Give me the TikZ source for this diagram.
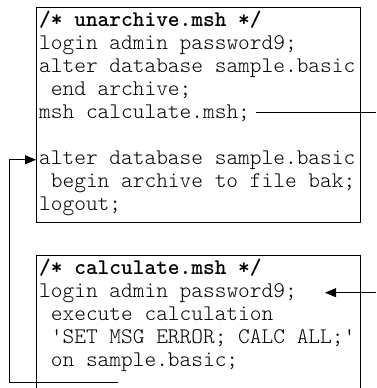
\documentclass[tikz,border=0pt]{standalone}
\usetikzlibrary{arrows.meta}
\begin{document}
\begin{tikzpicture}[x=1pt,y=-1pt,
  code/.style={anchor=base west, inner sep=0pt, font=\fontsize{22.3}{23}\selectfont\ttfamily\fontseries{l}\selectfont},
  codetitle/.style={code, font=\fontsize{22.3}{23}\selectfont\ttfamily\bfseries},
  box/.style={draw, line width=1pt, anchor=north west, inner sep=0pt, minimum width=324pt},
  conn/.style={line width=1pt},
  arr/.style={conn, -{Triangle[length=11pt,width=9pt]}}]
\useasboundingbox (0,0) rectangle (376,388);
\clip (0,0) rectangle (376,388);
% boxes
\node[box, minimum height=215pt] (unarch) at (36,7) {};
\node[box, minimum height=200pt] (calc) at (36,255) {};
% unarchive.msh
\node[codetitle] (t1) at (39,26) {/* unarchive.msh */};
\node[code] (login1) at (39,49) {login admin password9;};
\node[code] (alter1) at (39,72) {alter database sample.basic};
\node[code] (end1) at (39,95) {\hphantom{a}end archive;};
\node[code] (msh) at (39,118) {msh calculate.msh;};
\node[code] (alter2) at (39,164) {alter database sample.basic};
\node[code] (begin2) at (39,187) {\hphantom{a}begin archive to file bak;};
\node[code] (logout) at (39,210) {logout;};
% calculate.msh
\node[codetitle] (t2) at (39,274) {/* calculate.msh */};
\node[code] (login2) at (39,297) {login admin password9;};
\node[code] (exec) at (39,320) {\hphantom{a}execute calculation};
\node[code] (setmsg) at (39,343) {\hphantom{a}\textquotesingle SET MSG ERROR; CALC ALL;\textquotesingle};
\node[code] (onsample) at (39,366) {\hphantom{a}on sample.basic;};
% connector coordinates
\coordinate (redge) at (376,0);
\coordinate (tipx) at (325,0);
\coordinate (lx) at (9,0);
\coordinate (ret) at (118,382);
% connectors
\draw[conn] ([xshift=6pt]msh.east) -- (msh.east -| redge);
\draw[arr] (login2.east -| redge) -- (login2.east -| tipx);
\draw[arr] (ret) -- (ret -| lx) |- (alter2.west -| unarch.west);
\end{tikzpicture}
\end{document}
